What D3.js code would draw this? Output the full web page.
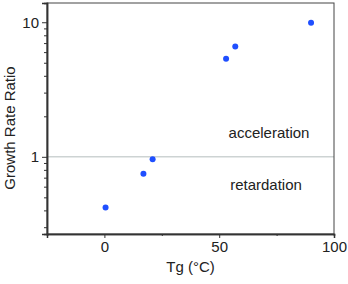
<!DOCTYPE html>
<html>
<head>
<meta charset="utf-8">
<script src="https://cdn.jsdelivr.net/npm/d3@7"></script>
<style>
  body { margin: 0; background: #fff; }
  svg text { font-family: "Liberation Sans", Arial, sans-serif; fill: #222; }
</style>
</head>
<body>
<div id="chart"></div>
<script>
// data
var tg = [0.5, 17, 21, 53, 57, 90];
var ratio = [0.42, 0.75, 0.96, 5.35, 6.6, 9.9];
var xTicks = [0, 50, 100];
var xMinor = [25, 75];
var yTicks = [1, 10];
var yMinor = [0.3, 0.4, 0.5, 0.6, 0.7, 0.8, 0.9, 2, 3, 4, 5, 6, 7, 8, 9];
var regionLabels = ["acceleration", "retardation"];

var W = 348, H = 284;
var m = {left: 47, right: 14, top: 3, bottom: 50};

var svg = d3.select("#chart").append("svg")
    .attr("width", W).attr("height", H);

var x = d3.scaleLinear().domain([-25, 100]).range([m.left, W - m.right]);
var y = d3.scaleLog().domain([0.267, 13.9]).range([H - m.bottom, m.top]);

// ratio = 1 reference line
svg.append("line")
    .attr("x1", x(-25)).attr("x2", x(100))
    .attr("y1", y(1)).attr("y2", y(1))
    .attr("stroke", "#cdd3d3").attr("stroke-width", 1.5);

// frame
svg.append("rect")
    .attr("x", x(-25)).attr("y", y(13.9))
    .attr("width", x(100) - x(-25)).attr("height", y(0.267) - y(13.9))
    .attr("fill", "none").attr("stroke", "#444").attr("stroke-width", 1);

// axes
svg.append("g").attr("transform", "translate(0," + y(0.267) + ")")
    .call(d3.axisBottom(x).tickValues(xTicks).tickSize(4).tickPadding(3).tickFormat(d3.format("d")));
svg.append("g").attr("transform", "translate(0," + y(0.267) + ")")
    .call(d3.axisBottom(x).tickValues(xMinor).tickSize(2).tickFormat(""));

svg.append("g").attr("transform", "translate(" + x(-25) + ",0)")
    .call(d3.axisLeft(y).tickValues(yTicks).tickSize(5).tickPadding(3).tickFormat(d3.format("d")));
svg.append("g").attr("transform", "translate(" + x(-25) + ",0)")
    .call(d3.axisLeft(y).tickValues(yMinor).tickSize(3).tickFormat(""));

svg.selectAll(".domain").attr("stroke", "#333").attr("stroke-width", 1.5);
svg.selectAll(".tick line").attr("stroke", "#333").attr("stroke-width", 1);
svg.selectAll(".tick text").attr("font-size", 15).style("fill", "#222");

// points
svg.selectAll("circle.pt").data(tg).enter().append("circle")
    .attr("class", "pt")
    .attr("cx", function (d) { return x(d); })
    .attr("cy", function (d, i) { return y(ratio[i]); })
    .attr("r", 3)
    .attr("fill", "#1f4fff");

// region labels
svg.append("text").attr("x", 269).attr("y", y(1) - 19)
    .attr("text-anchor", "middle").attr("font-size", 15).text(regionLabels[0]);
svg.append("text").attr("x", 266).attr("y", y(1) + 33)
    .attr("text-anchor", "middle").attr("font-size", 15).text(regionLabels[1]);

// axis titles
svg.append("text").attr("x", (x(-25) + x(100)) / 2).attr("y", 272)
    .attr("text-anchor", "middle").attr("font-size", 15).text("Tg (°C)");
svg.append("text")
    .attr("transform", "translate(15,128) rotate(-90)")
    .attr("text-anchor", "middle").attr("font-size", 15).text("Growth Rate Ratio");
</script>
</body>
</html>
